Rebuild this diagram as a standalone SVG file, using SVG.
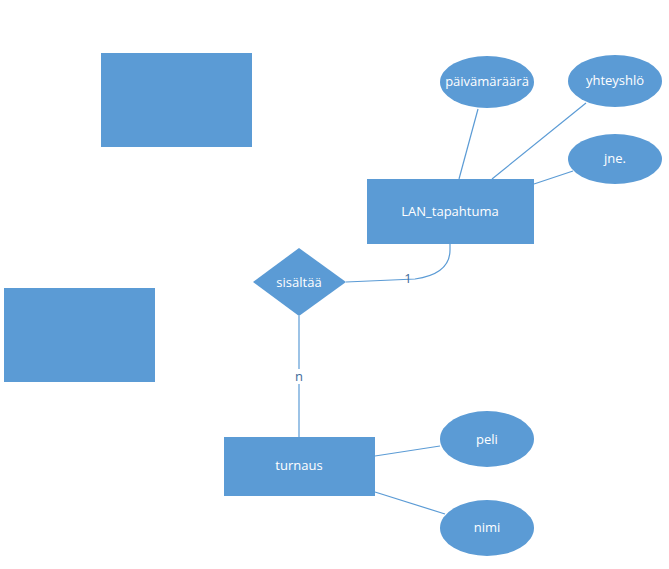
<svg xmlns="http://www.w3.org/2000/svg" width="669" height="569" viewBox="0 0 669 569">
<style>
.s{fill:#5B9BD5}
.t{fill:#fff;font-family:"Open Sans","Liberation Sans",sans-serif;font-size:13px;text-anchor:middle;dominant-baseline:central}
.c{stroke:#5B9BD5;stroke-width:1.2;fill:none}
.l{fill:#3E6A9A;font-family:"Open Sans","Liberation Sans",sans-serif;font-size:13px;text-anchor:middle;dominant-baseline:central}
</style>
<rect width="669" height="569" fill="#fff"/>
<g id="connectors">
<path class="c" d="M459,179 L478,109"/>
<path class="c" d="M492,179 L586,103"/>
<path class="c" d="M534,184 L573,171"/>
<path class="c" d="M346,282 L415,279 Q450,274 450,250 L450,244"/>
<path class="c" d="M299,316 L299,437"/>
<path class="c" d="M375,456 L440,446"/>
<path class="c" d="M375,492 L445,514"/>
<rect x="293" y="369" width="12" height="15" fill="#fff"/>
<text class="l" x="299" y="376">n</text>
<text class="l" x="408" y="278">1</text>
</g>
<g id="blank1"><rect class="s" x="101" y="53" width="151" height="94"/></g>
<g id="blank2"><rect class="s" x="4" y="288" width="151" height="94"/></g>
<g id="lan"><rect class="s" x="367" y="179" width="167" height="65"/><text class="t" x="450" y="211">LAN_tapahtuma</text></g>
<g id="sisaltaa"><polygon class="s" points="299,248 346,282 299,316 253,282"/><text class="t" x="299" y="282">sisältää</text></g>
<g id="turnaus"><rect class="s" x="224" y="437" width="151" height="59"/><text class="t" x="299" y="465">turnaus</text></g>
<g id="paivamaara"><ellipse class="s" cx="487" cy="82" rx="47" ry="26"/><text class="t" x="487" y="81">päivämäräärä</text></g>
<g id="yhteyshlo"><ellipse class="s" cx="615" cy="81" rx="47" ry="26"/><text class="t" x="615" y="80">yhteyshlö</text></g>
<g id="jne"><ellipse class="s" cx="615" cy="159" rx="47" ry="25"/><text class="t" x="615" y="158">jne.</text></g>
<g id="peli"><ellipse class="s" cx="487" cy="439" rx="47" ry="28"/><text class="t" x="487" y="439">peli</text></g>
<g id="nimi"><ellipse class="s" cx="487" cy="528" rx="47" ry="28"/><text class="t" x="487" y="527">nimi</text></g>
</svg>
